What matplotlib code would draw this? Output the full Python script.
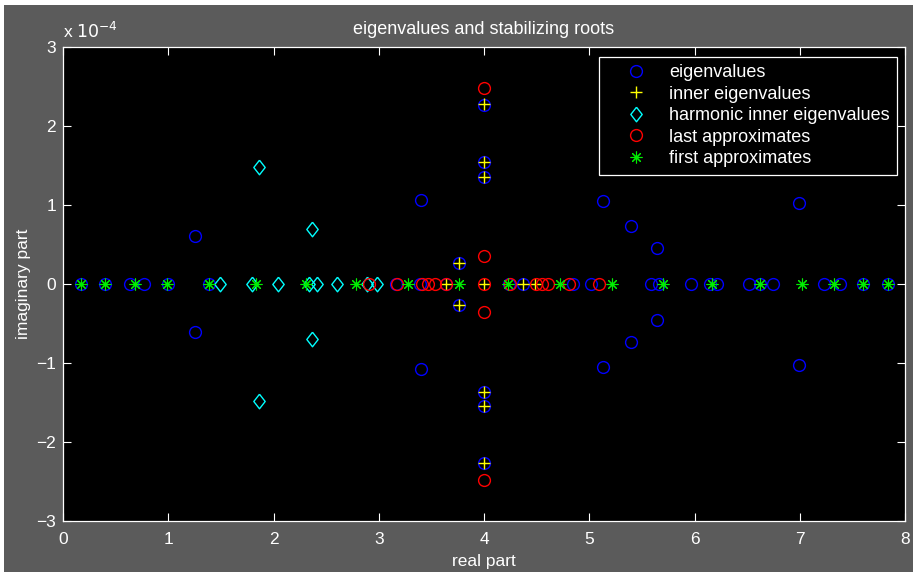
import numpy as np
import matplotlib.pyplot as plt
from matplotlib.patches import Rectangle
from matplotlib.ticker import FuncFormatter, MultipleLocator

plt.rcParams['font.family'] = ['Liberation Sans', 'DejaVu Sans']

# eigenvalues (blue circles)
eig_re = [0.17, 0.40, 0.64, 0.77, 1.00, 1.39, 3.16, 3.39, 3.64, 4.24, 4.37, 4.85, 5.02,
          5.59, 5.66, 5.97, 6.15, 6.21, 6.52, 6.62, 6.75, 7.23, 7.38, 7.60, 7.84,
          1.25, 1.25, 3.40, 3.40, 5.13, 5.13, 5.40, 5.40, 5.64, 5.64, 6.99, 6.99,
          3.765, 3.765, 4.0, 4.0, 4.0, 4.0, 4.0, 4.0]
eig_im = [0] * 25 + [0.61e-4, -0.61e-4, 1.06e-4, -1.07e-4, 1.05e-4, -1.05e-4,
                     0.74e-4, -0.74e-4, 0.45e-4, -0.46e-4, 1.02e-4, -1.02e-4,
                     0.27e-4, -0.27e-4, 1.36e-4, -1.37e-4, 1.55e-4, -1.55e-4,
                     2.27e-4, -2.27e-4]

# inner eigenvalues (yellow plus)
inner_re = [3.64, 4.0, 4.37, 4.48, 3.765, 3.765, 4.0, 4.0, 4.0, 4.0, 4.0, 4.0]
inner_im = [0, 0, 0, 0, 0.27e-4, -0.27e-4, 1.36e-4, -1.37e-4, 1.55e-4, -1.55e-4,
            2.28e-4, -2.27e-4]

# harmonic inner eigenvalues (cyan diamonds)
harm_re = [1.49, 1.80, 2.04, 2.34, 2.41, 2.60, 2.89, 2.98, 1.86, 1.86, 2.37, 2.37]
harm_im = [0, 0, 0, 0, 0, 0, 0, 0, 1.48e-4, -1.48e-4, 0.70e-4, -0.70e-4]

# last approximates (red circles)
last_re = [2.91, 3.17, 3.41, 3.47, 3.53, 3.64, 4.0, 4.25, 4.49, 4.55, 4.61, 4.81, 5.09,
           4.0, 4.0, 4.0, 4.0]
last_im = [0] * 13 + [2.48e-4, -2.48e-4, 0.35e-4, -0.35e-4]

# first approximates (green asterisks)
first_re = [0.17, 0.40, 0.68, 0.99, 1.39, 1.83, 2.31, 2.78, 3.28, 3.76, 4.23, 4.72,
            5.22, 5.70, 6.17, 6.62, 7.02, 7.33, 7.60, 7.84]
first_im = [0] * len(first_re)

gray = '#5b5b5b'
fig = plt.figure(figsize=(9.15, 5.72), dpi=100, facecolor='white')
fig.patches.append(Rectangle((4 / 915, 0), 909 / 915, 567 / 572,
                             transform=fig.transFigure, facecolor=gray,
                             edgecolor='none', zorder=-10))
ax = fig.add_axes([63 / 915, 51 / 572, 842 / 915, 474 / 572])
ax.set_facecolor('black')

diamond = [(0, 1), (0.78, 0), (0, -1), (-0.78, 0), (0, 1)]
ms = 8.5
ax.plot(eig_re, eig_im, 'o', mfc='none', mec='#0000ff', ms=ms, mew=1.0,
        label='eigenvalues')
ax.plot(inner_re, inner_im, '+', color='#ffff00', ms=ms + 0.5, mew=1.0,
        label='inner eigenvalues')
ax.plot(harm_re, harm_im, ls='none', marker=diamond, mfc='none', mec='#00ffff',
        ms=ms + 2, mew=1.0, label='harmonic inner eigenvalues')
ax.plot(last_re, last_im, 'o', mfc='none', mec='#ff0000', ms=ms, mew=1.0,
        label='last approximates')
ax.plot(first_re, first_im, ls='none', marker=(8, 2, 0), color='#00ee00',
        ms=ms, mew=0.8, label='first approximates')

ax.set_xlim(0, 8)
ax.set_ylim(-3e-4, 3e-4)
ax.xaxis.set_major_locator(MultipleLocator(1))
ax.yaxis.set_major_locator(MultipleLocator(1e-4))
ax.yaxis.set_major_formatter(FuncFormatter(lambda v, p: '%d' % round(v / 1e-4) if v >= 0
                                           else '\u2212%d' % round(-v / 1e-4)))
for s in ax.spines.values():
    s.set_color('white')
    s.set_linewidth(0.9)
ax.tick_params(colors='white', direction='in', length=6, width=0.8,
               top=True, right=True, labelsize=12.5)
ax.tick_params(axis='x', pad=8)
ax.tick_params(axis='y', pad=5)

ax.set_title('eigenvalues and stabilizing roots', color='white', fontsize=13, pad=9)
ax.set_xlabel('real part', color='white', fontsize=12.5, labelpad=5)
ax.set_ylabel('imaginary part', color='white', fontsize=12.5, labelpad=4)
ax.text(0.0, 1.012, r'x $10^{-4}$', transform=ax.transAxes, color='white',
        fontsize=12.5, ha='left', va='bottom')

leg = ax.legend(loc='upper right', bbox_to_anchor=(1 - 8 / 842, 1 - 10 / 474),
                fontsize=13, facecolor='black', edgecolor='white', framealpha=1,
                fancybox=False, labelspacing=0.25, handlelength=3.3,
                handletextpad=0.2, borderpad=0.4, borderaxespad=0)
leg.get_frame().set_linewidth(0.9)
for t in leg.get_texts():
    t.set_color('white')

fig.savefig('out.png', dpi=100, facecolor=fig.get_facecolor())
